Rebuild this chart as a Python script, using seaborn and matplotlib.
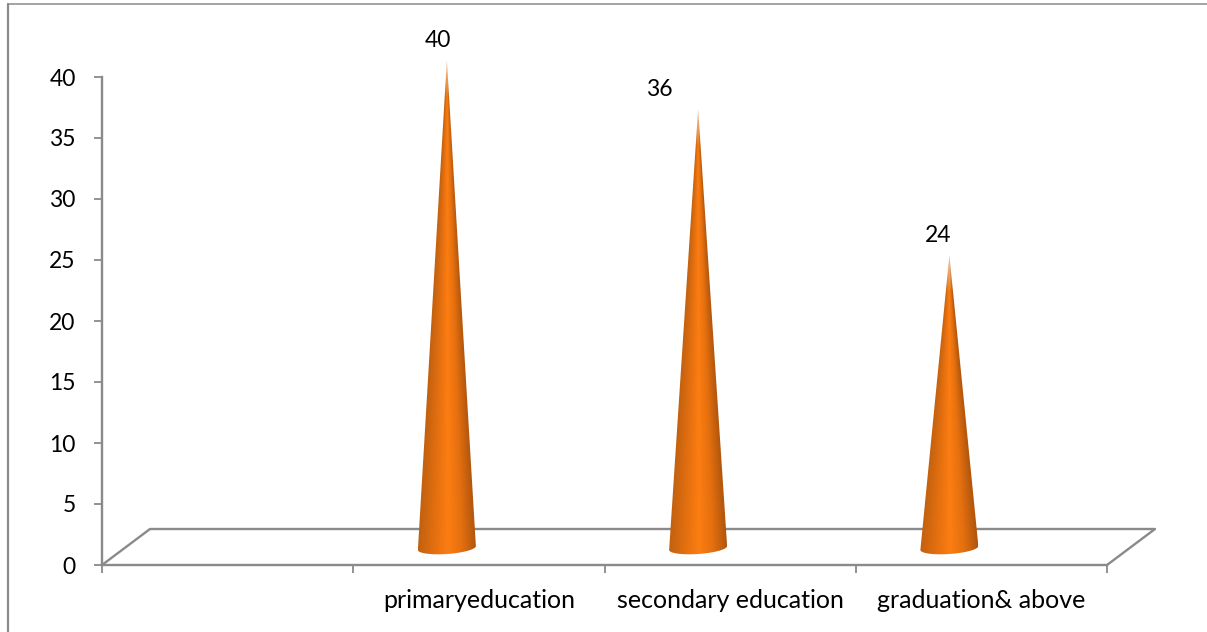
import numpy as np
import pandas as pd
import matplotlib
matplotlib.use("Agg")
import matplotlib.pyplot as plt
from matplotlib.lines import Line2D
from matplotlib.patches import PathPatch
from matplotlib.path import Path
from matplotlib.transforms import ScaledTranslation
import seaborn as sns

categories = ["", "primaryeducation", "secondary education", "graduation& above"]
values = [0, 40, 36, 24]
label_shift = [0, -9, -39, -11]
y_ticks = [0, 5, 10, 15, 20, 25, 30, 35, 40]

W, H = 1207, 632
GRAY = "#8a8a8a"

sns.set_theme(style="white")
plt.rcParams["font.family"] = ["Lato", "DejaVu Sans"]

fig = plt.figure(figsize=(W / 100, H / 100), dpi=100)
ax = fig.add_axes([102 / W, 1 - 565 / H, (1107 - 102) / W, (565 - 77) / H])

df = pd.DataFrame({"cat": categories, "val": values})
sns.barplot(data=df, x="cat", y="val", ax=ax, width=0.23, legend=False)
ax.set_xlim(-0.5, 3.5)
ax.set_ylim(0, 40)
ax.set_xlabel("")
ax.set_ylabel("")

# axis look
sns.despine(ax=ax)
for s in ["left", "bottom"]:
    ax.spines[s].set_color(GRAY)
    ax.spines[s].set_linewidth(1.7)
ax.set_yticks(y_ticks)
ax.tick_params(axis="y", length=6, width=1.3, color=GRAY, labelsize=16.5, pad=13,
               left=True, labelcolor="black")
# tick numbers sit a little under their ticks in the original
down = ScaledTranslation(0, -2 / 100, fig.dpi_scale_trans)
for lab in ax.get_yticklabels():
    lab.set_verticalalignment("center")
    lab.set_transform(lab.get_transform() + down)
ax.set_xticks(range(4))
ax.set_xticklabels(categories)
ax.tick_params(axis="x", which="major", length=0, labelsize=18, pad=17, labelcolor="black")
ax.set_xticks(np.arange(-0.5, 4), minor=True)
ax.tick_params(axis="x", which="minor", bottom=True, length=6, width=1.3, color=GRAY)

# floor of the 3d plot
px_x = 1005 / 4
px_y = 488 / 40
floor_dx = 48 / px_x
floor_dy = 36 / px_y
ax.plot([-0.5, -0.5 + floor_dx, 3.5 + floor_dx, 3.5], [0, floor_dy, floor_dy, 0],
        color=GRAY, lw=1.7, clip_on=False, zorder=1)

# cones stand on the floor, shifted back from the slot centre
depth_dx = -32 / px_x
depth_dy = 17 / px_y
half_w = 29 / px_x
ell_h = 6 / px_y

stops = np.array([0, 0.3, 0.52, 0.75, 1])
r = np.array([0.76, 0.90, 0.99, 0.90, 0.70])
g = np.array([0.38, 0.44, 0.49, 0.44, 0.34])
b = np.array([0.06, 0.06, 0.07, 0.06, 0.05])

for patch, val, shift in zip(ax.patches, values, label_shift):
    patch.set_visible(False)
    if val == 0:
        continue
    xc = patch.get_x() + patch.get_width() / 2 + depth_dx
    y0 = depth_dy
    top = y0 + patch.get_height()
    low = y0 - ell_h - 0.3

    # shaded surface, the shading follows the narrowing of the cone
    ny, nx = 500, 120
    ys = np.linspace(top, low, ny)
    xs = np.linspace(xc - half_w, xc + half_w, nx)
    xx, yy = np.meshgrid(xs, ys)
    width_here = half_w * np.clip((top - yy) / (top - y0), 0.001, 1)
    u = np.clip((xx - xc) / width_here * 0.5 + 0.5, 0, 1)
    img = np.dstack([np.interp(u, stops, r), np.interp(u, stops, g), np.interp(u, stops, b),
                     np.ones_like(u)])
    fade = np.clip((top - yy) / 3.0, 0, 1)
    for i in range(3):
        img[..., i] = 1 - (1 - img[..., i]) * (0.35 + 0.65 * fade)
    im = ax.imshow(img, extent=[xc - half_w, xc + half_w, low, top], aspect="auto",
                   zorder=3, interpolation="bilinear")

    # outline: two sides plus the front half of the base ellipse, tilted a little
    t = np.linspace(np.pi, 2 * np.pi, 40)
    ex = xc + half_w * np.cos(t)
    ey = y0 + ell_h * np.sin(t) + 0.16 * np.cos(t)
    verts = [(xc, top)] + list(zip(ex, ey)) + [(xc, top)]
    codes = [Path.MOVETO] + [Path.LINETO] * (len(verts) - 2) + [Path.CLOSEPOLY]
    clip = PathPatch(Path(verts, codes), transform=ax.transData, fc="none", ec="none")
    clip.set_clip_on(False)
    ax.add_patch(clip)
    im.set_clip_box(fig.bbox)
    im.set_clip_path(clip)

    ax.annotate(str(val), (xc, top), xytext=(shift * 0.72, 14), textcoords="offset points",
                ha="center", va="center", fontsize=16.5, color="black", annotation_clip=False)

ax.set_xlim(-0.5, 3.5)
ax.set_ylim(0, 40)

# chart area border, only top and left show
fig.add_artist(Line2D([8 / W, 8 / W], [0, 1 - 4 / H], color=GRAY, lw=1.6))
fig.add_artist(Line2D([8 / W, 1], [1 - 4 / H, 1 - 4 / H], color=GRAY, lw=1.1))

fig.savefig("out.png", dpi=100, facecolor="white")
